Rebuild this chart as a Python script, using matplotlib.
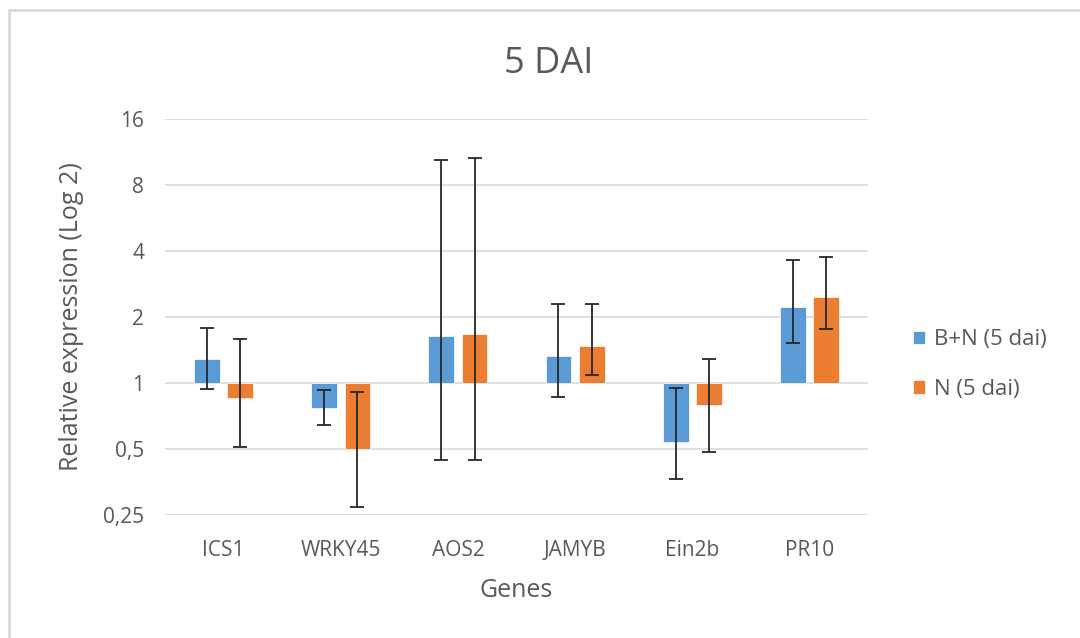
import numpy as np
import matplotlib
matplotlib.use('Agg')
import matplotlib.pyplot as plt
from matplotlib.patches import Rectangle
from matplotlib.ticker import FixedLocator, FixedFormatter, NullLocator

# donnees
genes = ['ICS1', 'WRKY45', 'AOS2', 'JAMYB', 'Ein2b', 'PR10']
bn_vals = [1.29, 0.77, 1.64, 1.33, 0.54, 2.21]
bn_low = [0.94, 0.646, 0.446, 0.86, 0.366, 1.52]
bn_high = [1.78, 0.926, 10.4, 2.30, 0.95, 3.65]
n_vals = [0.85, 0.50, 1.67, 1.48, 0.79, 2.46]
n_low = [0.51, 0.272, 0.446, 1.09, 0.487, 1.76]
n_high = [1.58, 0.913, 10.6, 2.30, 1.285, 3.77]
yticks = [0.25, 0.5, 1, 2, 4, 8, 16]
ytick_labels = ['0,25', '0,5', '1', '2', '4', '8', '16']

plt.rcParams['font.family'] = ['Open Sans', 'DejaVu Sans']
grey = '#595959'
blue = '#5B9BD5'
orange = '#ED7D31'

fig = plt.figure(figsize=(10.8, 6.38), dpi=100)
ax = fig.add_axes([0.1528, 0.1928, 0.6509, 0.6207])

# cadre du graphique
fig.patches.append(Rectangle((9 / 1080, -0.1), 1.2, (638 - 10) / 638 + 0.1,
                             transform=fig.transFigure, fill=False,
                             edgecolor='#d9d9d9', linewidth=2))

x = np.arange(len(genes))
w = 0.22
off = 0.142

def draw(xs, vals, low, high, color, label):
    vals = np.array(vals)
    ax.bar(xs, vals - 1, bottom=1, width=w, color=color, label=label,
           edgecolor='white', linewidth=0.5, zorder=2)
    yerr = [vals - np.array(low), np.array(high) - vals]
    ax.errorbar(xs, vals, yerr=yerr, fmt='none', ecolor='#262626',
                elinewidth=1.3, capsize=5, capthick=1.3, zorder=3)

draw(x - off, bn_vals, bn_low, bn_high, blue, 'B+N (5 dai)')
draw(x + off, n_vals, n_low, n_high, orange, 'N (5 dai)')

ax.set_yscale('log', base=2)
ax.set_ylim(0.25, 16)
ax.set_xlim(-0.5, len(genes) - 0.5)
ax.yaxis.set_major_locator(FixedLocator(yticks))
ax.yaxis.set_major_formatter(FixedFormatter(ytick_labels))
ax.yaxis.set_minor_locator(NullLocator())
ax.set_xticks(x)
ax.set_xticklabels(genes)
ax.grid(axis='y', color='#d9d9d9', linewidth=1.2, zorder=0)
ax.set_axisbelow(True)
for s in ax.spines.values():
    s.set_visible(False)
ax.tick_params(axis='both', length=0, labelsize=15, colors=grey)
ax.tick_params(axis='y', pad=15)
ax.tick_params(axis='x', pad=18)

ax.set_ylabel('Relative expression (Log 2)', fontsize=18, color=grey, labelpad=14)
ax.set_xlabel('Genes', fontsize=18, color=grey, labelpad=12)
fig.text(0.508, 0.900, '5 DAI', ha='center', va='center', fontsize=26, color=grey)

ax.legend(loc='center left', bbox_to_anchor=(1.035, 0.38), frameon=False,
          fontsize=16, labelcolor=grey, handlelength=0.55, handleheight=0.55,
          handletextpad=0.4, labelspacing=1.3)

fig.savefig('out.png', dpi=100, facecolor='white')
